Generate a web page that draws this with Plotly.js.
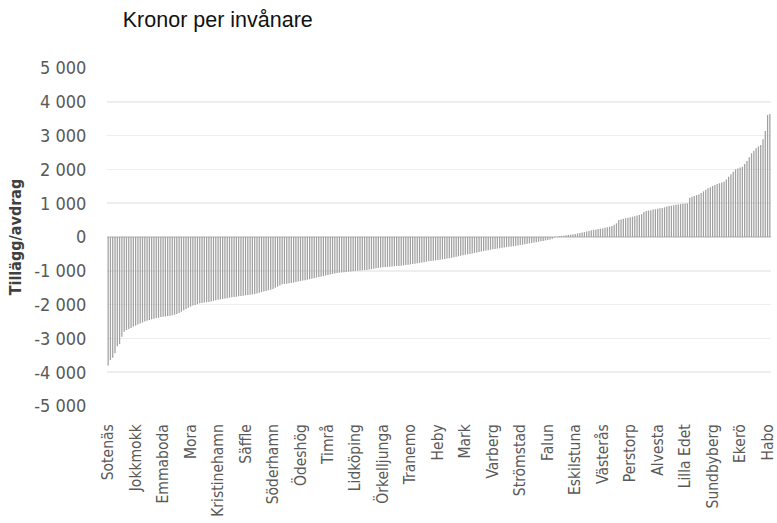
<!DOCTYPE html>
<html>
<head>
<meta charset="utf-8">
<script src="https://cdn.plot.ly/plotly-3.0.1.min.js"></script>
<style>html,body{margin:0;padding:0;background:#fff;}#chart{width:777px;height:523px;}</style>
</head>
<body>
<div id="chart"></div>
<script>
// Values per municipality (kronor per invånare), sorted ascending
const values = [
  -3800, -3640, -3570, -3440, -3230, -3170, -2950, -2800,
  -2750, -2720, -2690, -2650, -2620, -2590, -2560, -2530, -2500, -2480, -2455, -2430,
  -2415, -2400, -2390, -2370, -2360, -2350, -2340, -2330, -2315, -2300,
  -2280, -2250, -2210, -2170, -2130, -2090, -2060, -2030, -2010, -1985, -1960,
  -1950, -1940, -1930, -1920, -1905, -1890, -1875, -1860, -1850, -1835, -1820, -1810, -1795,
  -1785, -1775, -1765, -1755, -1745, -1735, -1725, -1715, -1710, -1700,
  -1685, -1670, -1650, -1630, -1610, -1595, -1575, -1560, -1540,
  -1505, -1470, -1435, -1400,
  -1390, -1380, -1370, -1360,
  -1350, -1335, -1320, -1305, -1290, -1280,
  -1265, -1250, -1235, -1215, -1200, -1185, -1170,
  -1155, -1140, -1125, -1110, -1095, -1080, -1065, -1055,
  -1048, -1041, -1034, -1027, -1020, -1013, -1006, -999, -992, -986, -980, -975,
  -965, -952, -940, -928, -916, -905, -895,
  -890, -884, -878, -872, -866, -860, -855, -850,
  -840, -830, -820, -810, -800, -790, -780,
  -768, -756, -744, -732, -720,
  -710, -700, -690, -680, -670, -660, -650,
  -638, -627, -615,
  -600, -585, -570, -555, -540, -527, -513, -500,
  -486, -472, -458, -444, -429, -414, -400,
  -389, -378, -366, -355, -343, -332, -320,
  -310, -300, -290, -280, -270, -260, -250,
  -238, -226, -214, -202, -190, -178, -166, -155,
  -142, -129, -115, -102, -88, -75,
  -50, -20,
  10, 20, 30,
  40, 50, 60, 70,
  80, 92, 105, 118, 130,
  145, 162, 180, 200,
  210, 222, 233, 244, 255,
  270, 288, 306, 325,
  360, 405,
  500, 520,
  540, 555, 570, 585, 600,
  615, 635, 650, 670,
  740, 770,
  785, 795, 810,
  820, 835, 848, 860,
  880, 900, 915,
  925, 940, 952, 965,
  975, 982, 990, 995,
  1160,
  1190, 1210, 1240, 1260,
  1300, 1350, 1400, 1440,
  1470, 1510, 1540,
  1570, 1590, 1615, 1635,
  1700, 1785,
  1860, 1930, 2000,
  2030, 2055, 2080,
  2160, 2250,
  2360, 2475,
  2550, 2625,
  2680, 2720,
  2890, 3135, 3610, 3640
];

// Municipalities shown as category labels (every 12th bar)
const labelNames = [
  "Sotenäs", "Jokkmokk", "Emmaboda", "Mora", "Kristinehamn", "Säffle", "Söderhamn",
  "Ödeshög", "Timrå", "Lidköping", "Örkelljunga", "Tranemo", "Heby", "Mark", "Varberg",
  "Strömstad", "Falun", "Eskilstuna", "Västerås", "Perstorp", "Alvesta", "Lilla Edet",
  "Sundbyberg", "Ekerö", "Habo"
];
const labelStep = 12;

// Y tick labels
const yTickVals = [-5000, -4000, -3000, -2000, -1000, 0, 1000, 2000, 3000, 4000, 5000];
const yTickText = ["-5 000", "-4 000", "-3 000", "-2 000", "-1 000", "0", "1 000", "2 000", "3 000", "4 000", "5 000"];

const xIdx = values.map((v, i) => i);
const labelIdx = labelNames.map((n, k) => k * labelStep);

const narrow = '"Liberation Sans Narrow", "DejaVu Sans Condensed", "Roboto", sans-serif';

const trace = {
  type: 'bar',
  x: xIdx,
  y: values,
  marker: { color: '#a0a0a0', line: { width: 0 } },
  hoverinfo: 'skip'
};

const layout = {
  width: 777,
  height: 523,
  margin: { l: 107, r: 6, t: 68, b: 117 },
  paper_bgcolor: '#ffffff',
  plot_bgcolor: '#ffffff',
  bargap: 0.45,
  showlegend: false,
  title: {
    text: 'Kronor per invånare',
    font: { family: '"Liberation Sans", Arial, sans-serif', size: 21.5, color: '#111111' },
    x: 0.158, xref: 'container', xanchor: 'left',
    y: 0.962, yref: 'container', yanchor: 'middle'
  },
  xaxis: {
    type: 'linear',
    range: [-0.5, values.length - 0.5],
    tickmode: 'array',
    tickvals: labelIdx,
    ticktext: labelNames,
    tickangle: -90,
    ticklabeloverflow: 'allow',
    tickfont: { family: narrow, size: 15.5, color: '#595959' },
    ticks: 'outside', ticklen: 11, tickcolor: 'rgba(0,0,0,0)',
    showgrid: false, zeroline: false, showline: false
  },
  yaxis: {
    range: [-5000, 5000],
    tickmode: 'array',
    tickvals: yTickVals,
    ticktext: yTickText,
    tickfont: { family: narrow, size: 18, color: '#595959' },
    ticks: 'outside', ticklen: 16, tickcolor: 'rgba(0,0,0,0)',
    showgrid: true, gridcolor: '#eeeeee', gridwidth: 1.5,
    zeroline: true, zerolinecolor: '#d6d6d6', zerolinewidth: 2,
    showline: false,
    title: {
      text: '<b>Tillägg/avdrag</b>',
      font: { family: narrow, size: 16, color: '#404040' },
      standoff: 8
    }
  }
};

Plotly.newPlot('chart', [trace], layout, { staticPlot: true, displayModeBar: false });
</script>
</body>
</html>
